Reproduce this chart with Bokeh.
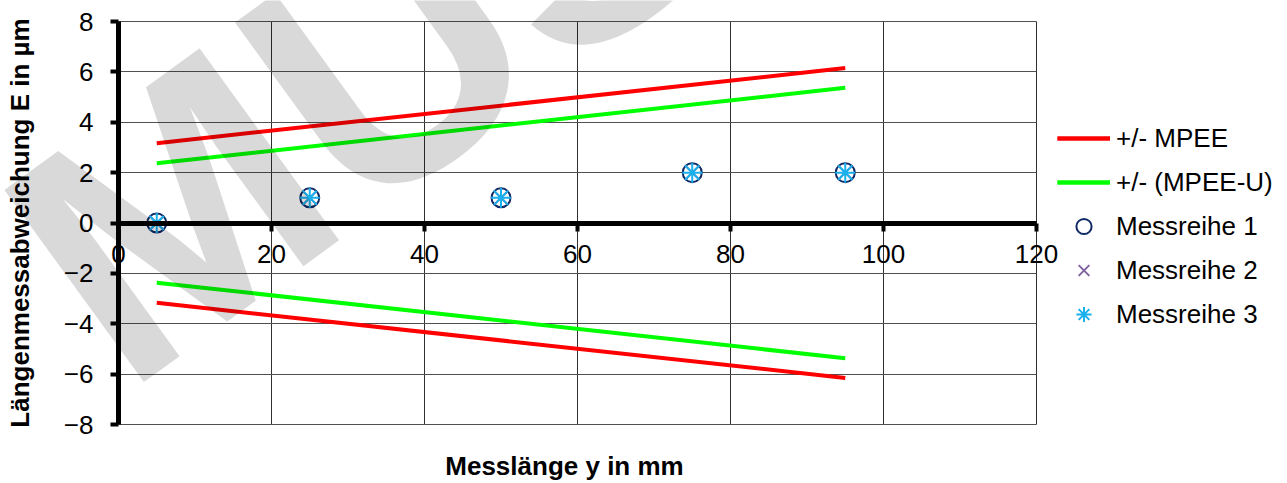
from bokeh.plotting import figure
from bokeh.models import (Legend, LegendItem, FixedTicker, Label, Range1d,
                          LinearAxis, Grid)
from bokeh.embed import file_html
from bokeh.resources import INLINE

# ---- data ----
length_mm = [5, 95]
mpee_upper = [3.17, 6.15]
mpee_lower = [-3.17, -6.15]
mpeeu_upper = [2.37, 5.37]
mpeeu_lower = [-2.37, -5.37]

meas_x = [5, 25, 50, 75, 95]
messreihe_1 = [0, 1, 1, 2, 2]
messreihe_2 = [0, 1, 1, 2, 2]
messreihe_3 = [0, 1, 1, 2, 2]

x_ticks = [0, 20, 40, 60, 80, 100, 120]
y_ticks = [-8, -6, -4, -2, 0, 2, 4, 6, 8]

FONT = "Liberation Sans"

# the frame covers the whole canvas; the plot area is 0..120 x -8..8
p = figure(width=1287, height=483, output_backend="svg", toolbar_location=None,
           x_range=Range1d(-15.425, 152.81), y_range=Range1d(-10.342, 8.834),
           min_border=0, x_axis_location=None, y_axis_location=None,
           background_fill_color="white", border_fill_color="white",
           outline_line_color=None)
for g in list(p.grid):
    g.visible = False

xaxis = LinearAxis(fixed_location=0, bounds=(0, 120), ticker=FixedTicker(ticks=x_ticks))
yaxis = LinearAxis(fixed_location=0, bounds=(-8, 8), ticker=FixedTicker(ticks=y_ticks))
for ax in (xaxis, yaxis):
    ax.axis_line_width = 5
    ax.axis_line_color = "black"
    ax.major_tick_line_width = 4
    ax.major_tick_line_color = "black"
    ax.major_tick_in = 0
    ax.major_tick_out = 8
    ax.minor_tick_line_color = None
    ax.major_label_text_font = FONT
    ax.major_label_text_font_size = "26px"
    ax.major_label_text_color = "black"
xaxis.major_label_standoff = 14
yaxis.major_label_standoff = 17
yaxis.axis_label = "Längenmessabweichung E in µm"
yaxis.axis_label_text_font = FONT
yaxis.axis_label_text_font_size = "26px"
yaxis.axis_label_text_font_style = "bold"
yaxis.axis_label_text_color = "black"
yaxis.axis_label_standoff = 26
p.add_layout(xaxis, "below")
p.add_layout(yaxis, "left")

xgrid = Grid(dimension=0, ticker=xaxis.ticker, bounds=(0, 120), cross_bounds=(-8, 8),
             grid_line_color="#303030", grid_line_width=1)
ygrid = Grid(dimension=1, ticker=yaxis.ticker, bounds=(-8, 8), cross_bounds=(0, 120),
             grid_line_color="#505050", grid_line_width=1)
p.add_layout(xgrid)
p.add_layout(ygrid)

# lines
r_mu = p.line(length_mm, mpee_upper, line_color="#ff0000", line_width=4)
r_ml = p.line(length_mm, mpee_lower, line_color="#ff0000", line_width=4)
g_mu = p.line(length_mm, mpeeu_upper, line_color="#00ff00", line_width=4)
g_ml = p.line(length_mm, mpeeu_lower, line_color="#00ff00", line_width=4)

# markers
s1 = p.scatter(meas_x, messreihe_1, marker="circle", size=19, fill_color=None,
               line_color="#102a66", line_width=2)
s2 = p.scatter(meas_x, messreihe_2, marker="x", size=19,
               line_color="#8064a2", line_width=2)
s3 = p.scatter(meas_x, messreihe_3, marker="asterisk", size=20,
               line_color="#1ab0ec", line_width=2)

legend = Legend(items=[
    LegendItem(label="+/- MPEE", renderers=[r_mu, r_ml]),
    LegendItem(label="+/- (MPEE-U)", renderers=[g_mu, g_ml]),
    LegendItem(label="Messreihe 1", renderers=[s1]),
    LegendItem(label="Messreihe 2", renderers=[s2]),
    LegendItem(label="Messreihe 3", renderers=[s3]),
], location=(1057, 150), margin=0, padding=0, spacing=6,
    glyph_width=53, glyph_height=38, label_height=38, label_standoff=6,
    label_text_font=FONT, label_text_font_size="26px", label_text_color="black",
    border_line_color=None, background_fill_alpha=0)
p.add_layout(legend, "center")

# x-axis title
xtitle = Label(x=58.3, y=-9.628, text="Messlänge y in mm", text_align="center",
               text_baseline="middle", text_font=FONT, text_font_size="26px",
               text_font_style="bold", text_color="black")
p.add_layout(xtitle)

# watermark
wm = Label(x=-8.30, y=-3.017, text="MUSTER", angle=36, angle_units="deg",
           text_font=FONT, text_font_size="345px", text_font_style="bold",
           text_color="black", text_alpha=0.15, text_baseline="alphabetic",
           text_align="left", level="overlay")
p.add_layout(wm)

open("out.html", "w").write(file_html(p, INLINE))
